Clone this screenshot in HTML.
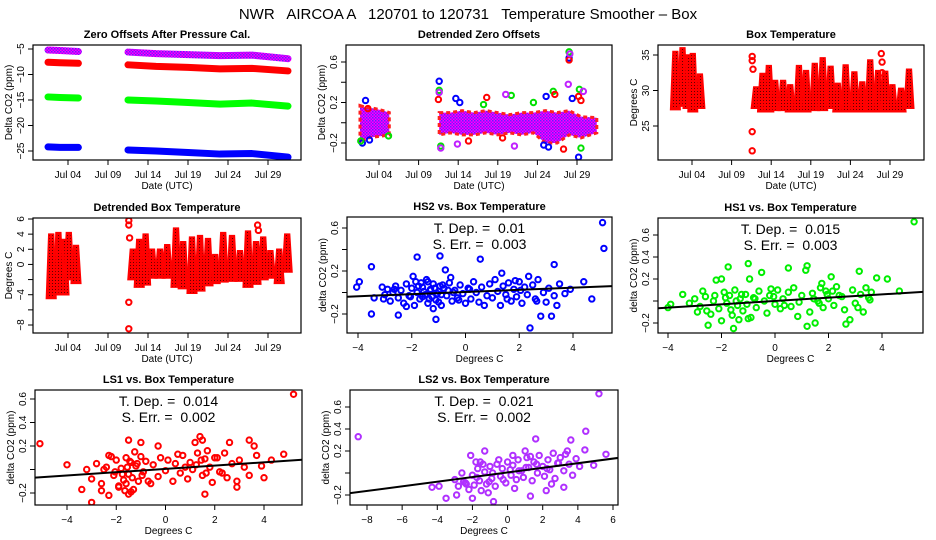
<!DOCTYPE html>
<html><head><meta charset="utf-8"><style>
html,body{margin:0;padding:0;background:#fff;}
svg{display:block;font-family:"Liberation Sans",sans-serif;}
</style></head><body>
<svg id="fig" width="936" height="540" viewBox="0 0 936 540" xmlns="http://www.w3.org/2000/svg">
<defs>
<pattern id="redDots" width="3" height="3" patternUnits="userSpaceOnUse"><rect width="3" height="3" fill="#ff0000"/><rect x="1" y="1" width="1" height="1" fill="#600000"/></pattern>
<pattern id="purpleDots" width="3" height="3" patternUnits="userSpaceOnUse"><rect width="3" height="3" fill="#ff00ff"/><rect x="0" y="0" width="1.5" height="1.5" fill="#6020ff"/><rect x="1.5" y="1.5" width="1.5" height="1.5" fill="#a000ff"/></pattern>
</defs>
<text x="468" y="19" font-size="15" text-anchor="middle" style="white-space:pre">NWR   AIRCOA A   120701 to 120731   Temperature Smoother – Box</text>
</svg>
<script>
// ---------- Panel A: zero offsets ----------
const daysA1 = [1.5, 3, 5.3];
const daysA2 = [11.5, 15, 19, 23, 27, 31.5];
const purpleA1 = [-5.2, -5.3, -5.5];
const purpleA2 = [-5.6, -5.9, -6.1, -6.3, -6.2, -6.9];
const redA1 = [-7.6, -7.7, -7.8];
const redA2 = [-8.1, -8.4, -8.6, -8.9, -8.8, -9.3];
const greenA1 = [-14.4, -14.5, -14.6];
const greenA2 = [-15.0, -15.2, -15.5, -15.8, -15.6, -16.2];
const blueA1 = [-24.2, -24.3, -24.3];
const blueA2 = [-24.8, -25.0, -25.3, -25.6, -25.5, -26.2];
// ---------- Panel B: detrended zero offsets ----------
const daysB = [1.6, 2.5, 3.5, 4.5, 5.3, 11.6, 13, 14.5, 16, 17.5, 19, 20.5, 22, 23.5, 25, 26.5, 28, 29.5, 31.5];
const hiB = [0.17, 0.15, 0.14, 0.12, 0.1, 0.1, 0.1, 0.12, 0.1, 0.12, 0.1, 0.08, 0.1, 0.1, 0.12, 0.1, 0.12, 0.06, 0.05];
const loB = [-0.2, -0.15, -0.14, -0.13, -0.12, -0.12, -0.1, -0.12, -0.12, -0.1, -0.12, -0.1, -0.12, -0.1, -0.2, -0.2, -0.12, -0.15, -0.1];
const blueOutDays = [11.6, 13.7, 14.2, 24.8, 25.4, 29.2, 25.1, 28, 28.4, 2.3, 2.8, 1.9];
const blueOutVals = [0.41, 0.24, 0.2, -0.22, -0.24, -0.34, 0.26, 0.64, 0.24, 0.22, -0.17, -0.2];
const redOutDays = [11.5, 17.6, 26.2, 27.3, 28, 29.2, 29.5, 15.3, 19.6, 2.6];
const redOutVals = [0.23, 0.25, 0.28, -0.26, 0.62, 0.26, 0.22, -0.18, -0.15, 0.14];
const greenOutDays = [11.6, 11.8, 17.2, 20.7, 23.5, 26, 28, 29.3, 29.5, 1.7, 5.2];
const greenOutVals = [0.32, -0.23, 0.18, 0.27, 0.2, 0.31, 0.7, 0.33, -0.25, -0.18, -0.13];
const purpleOutDays = [11.6, 11.8, 13.9, 20, 21.1, 27.9, 29.8, 28.1];
const purpleOutVals = [0.3, -0.25, -0.21, 0.28, -0.23, 0.38, 0.31, 0.68];
// ---------- Panel C / D: box temperature (daily ranges) ----------
const daysT = [1.9, 2.8, 3.5, 4.1, 5.0, 12.1, 12.9, 13.7, 14.5, 15.5, 16.4, 17.5, 18.4, 19.5, 20.5, 21.5, 22.4, 23.4, 24.5, 25.5, 26.5, 27.5, 28.4, 29.3, 30.4, 31.4];
const hiC = [35.5, 36, 35, 35.2, 32.3, 30.5, 32.4, 33.5, 31.4, 31.4, 30.8, 33.5, 32.8, 33.8, 34.6, 33.4, 31, 33.6, 32.6, 31.2, 34.3, 32.8, 32.7, 30.8, 30.3, 33];
const loC = [27.3, 27.8, 27.5, 27, 27.5, 27.5, 27, 27, 27.2, 27.2, 27, 27, 27, 27.2, 27.2, 27.5, 27, 27, 27, 27, 27, 27, 27, 27, 27, 27.5];
const outDaysC = [11.6, 11.6, 11.7, 11.6, 11.6, 27.9, 28, 28];
const outValsC = [34.8, 34.2, 33, 24.2, 21.5, 35.2, 34, 32.5];
const hiD = [4, 4.2, 3.3, 4.2, 2.5, 2, 3.3, 4, 2, 2, 2.6, 4.8, 3, 3.6, 3.8, 3.4, 1.3, 4.2, 3.8, 1.8, 4.4, 3, 3.6, 1.8, 2, 4];
const loD = [-4.5, -4, -4, -2, -2.5, -2, -3, -2.7, -1.8, -1.8, -1.8, -3, -3.2, -3.8, -3.5, -2.8, -2.5, -2.3, -2.2, -2.2, -3, -2.6, -2, -1.8, -2.5, -1];
const outDaysD = [11.6, 11.6, 11.7, 11.6, 11.6, 27.7, 27.8];
const outValsD = [5.8, 5.2, 3.5, -5, -8.5, 5.2, 4.5];
// ---------- Scatter panels ----------
const hs2X = [5.1,5.15,2.4,-1.8,-0.95,0.55,-0.75,-3.5,3.3,-4.05,-3.95,-3.5,-2.5,-1.1,2.8,3.2,4.7,4.4,-3.1,-3.0,-2.9,-2.8,-2.7,-2.6,-2.5,-2.4,-2.3,-2.2,-2.1,-2.0,-1.9,-1.85,-1.8,-1.7,-1.6,-1.5,-1.45,-1.4,-1.3,-1.25,-1.2,-1.1,-1.0,-0.95,-0.9,-0.8,-0.7,-0.6,-0.5,-0.4,-0.3,-0.2,-0.1,0.0,0.1,0.2,0.3,0.4,0.5,0.6,0.8,0.9,1.0,1.1,1.2,1.3,1.4,1.5,1.6,1.7,1.8,1.9,2.0,2.1,2.2,2.3,2.5,2.6,2.7,2.9,3.0,3.1,3.3,3.5,3.7,3.9,-3.4,-1.95,-0.55,1.35,2.35,-1.2,0.7,-2.2,3.4,-1.3,-0.9,-1.6,-1.55,-1.35,-1.15,-1.05,-0.85,-1.75,-2.05,-1.65,-0.65,-0.25,0.15,1.55,1.85,2.05,2.65,-2.65,-3.05,-1.4,-1.0,-0.45];
const hs2Y = [0.65,0.41,-0.33,0.33,0.34,0.31,0.21,0.24,0.26,0.05,0.1,-0.2,-0.21,-0.25,-0.22,-0.22,-0.06,0.1,0.05,-0.02,0.03,-0.08,0.0,0.06,-0.05,0.02,-0.1,0.08,-0.03,0.04,-0.12,0.1,0.0,-0.06,0.05,-0.02,0.12,-0.1,0.03,-0.04,0.08,-0.07,0.01,0.06,-0.12,0.04,-0.03,0.09,-0.08,0.02,-0.05,0.07,-0.01,-0.1,0.04,-0.06,0.1,0.0,-0.09,0.05,-0.03,0.08,-0.05,0.12,0.01,-0.12,0.06,-0.02,0.09,-0.08,0.03,-0.04,0.1,-0.1,0.05,-0.02,0.07,-0.06,0.12,0.0,-0.09,0.04,-0.03,0.08,-0.01,0.03,-0.05,0.15,0.14,0.18,0.15,-0.15,-0.12,-0.13,-0.12,0.02,-0.02,-0.04,0.01,-0.06,0.04,-0.01,0.07,0.06,-0.04,0.09,0.02,-0.07,0.03,-0.06,0.11,0.02,-0.08,0.03,-0.06,0.1,-0.09,0.0];
const hs2Fit = [0.005, 0.01];
const hs1X = [5.2,-1.0,-1.75,0.5,1.2,1.15,3.15,-0.5,-2.2,-2.0,-0.95,2.1,3.8,4.2,4.65,-3.45,-2.7,-1.55,1.2,2.65,-2.5,1.5,2.8,-4.0,-3.9,-3.2,-3.0,-2.9,-2.8,-2.6,-2.4,-2.3,-2.1,-1.9,-1.8,-1.7,-1.6,-1.5,-1.4,-1.3,-1.2,-1.1,-0.9,-0.8,-0.7,-0.6,-0.4,-0.3,-0.2,0.0,0.1,0.2,0.3,0.5,0.6,0.7,0.9,1.0,1.3,1.4,1.6,1.7,1.8,1.9,2.0,2.2,2.3,2.4,2.6,2.9,3.0,3.2,3.3,3.4,3.5,3.6,-1.35,-0.15,0.85,1.75,2.5,-2.0,-1.0,3.1,-1.85,-1.65,-1.45,-1.25,-1.05,-0.75,-2.25,-2.55,1.45,1.65,1.95,2.15,3.55,-0.05,0.35];
const hs1Y = [0.72,0.34,0.31,0.3,0.32,0.28,0.27,0.26,0.19,0.2,0.2,0.22,0.21,0.2,0.09,0.06,0.09,-0.25,-0.23,-0.21,-0.22,-0.2,-0.17,-0.06,-0.03,-0.02,0.02,-0.1,-0.05,0.04,-0.12,0.0,-0.07,0.08,-0.02,0.05,-0.13,0.1,-0.04,0.02,-0.09,0.06,-0.15,0.03,-0.06,0.09,0.0,-0.11,0.05,-0.03,0.1,-0.07,0.02,0.08,-0.05,0.12,-0.01,0.05,-0.1,0.07,0.0,0.12,-0.06,0.09,0.02,-0.04,0.13,0.05,-0.08,0.1,-0.02,0.06,-0.1,0.12,0.03,0.08,-0.17,0.11,-0.14,0.16,0.04,-0.18,-0.16,-0.06,0.03,-0.08,0.0,0.06,-0.03,0.02,0.05,-0.09,0.02,-0.02,0.06,0.09,0.01,0.04,-0.04];
const hs1Fit = [0.0, 0.015];
const ls1X = [5.2,-5.1,-4.0,-3.0,-2.3,-1.5,-1.0,-0.3,1.4,1.5,1.2,2.6,3.4,3.6,4.8,4.0,1.6,-1.5,-3.4,-2.6,2.9,4.3,-3.2,-3.0,-2.8,-2.6,-2.4,-2.3,-2.1,-2.0,-1.9,-1.8,-1.7,-1.6,-1.5,-1.4,-1.3,-1.2,-1.1,-1.0,-0.9,-0.8,-0.6,-0.5,-0.3,-0.2,0.0,0.1,0.3,0.4,0.6,0.7,0.9,1.0,1.1,1.3,1.5,1.6,1.8,1.9,2.1,2.2,2.4,2.5,2.7,2.9,3.0,3.2,3.4,3.7,-1.65,-1.25,-0.7,0.5,1.7,2.3,-2.2,-1.9,-1.4,3.9,-1.75,-1.55,-1.35,-1.15,-2.05,-2.5,-0.95,1.25,1.45,1.65,2.0,-1.6,-1.45,0.8];
const ls1Y = [0.64,0.22,0.04,-0.28,-0.22,0.25,0.23,0.2,0.28,0.25,0.23,0.23,0.25,0.2,0.13,-0.07,-0.21,-0.21,-0.17,-0.18,-0.15,0.08,0.0,-0.08,0.05,-0.12,0.02,0.12,-0.05,0.08,-0.14,0.01,-0.09,0.1,-0.04,0.06,-0.17,0.03,-0.1,0.11,-0.02,0.07,-0.12,0.04,-0.06,0.1,-0.01,0.08,-0.1,0.05,-0.03,0.12,-0.08,0.06,0.0,0.14,-0.05,0.09,0.02,-0.11,0.1,-0.02,0.14,-0.07,0.05,-0.1,0.08,0.02,-0.05,0.12,-0.18,0.15,-0.1,0.13,0.16,-0.03,0.11,-0.15,-0.19,0.03,-0.04,0.02,-0.07,0.05,-0.02,0.0,-0.05,0.04,0.08,-0.03,0.1,-0.12,0.07,0.02];
const ls1Fit = [0.005, 0.014];
const ls2X = [-8.5,5.2,4.45,3.6,1.6,1.0,5.6,4.4,4.9,-4.3,-3.9,-3.5,-2.0,-0.8,1.3,2.2,3.2,-1.3,-2.1,-2.9,0.3,-3.0,-2.8,-2.6,-2.4,-2.2,-2.0,-1.9,-1.7,-1.6,-1.5,-1.3,-1.2,-1.0,-0.9,-0.7,-0.6,-0.4,-0.3,-0.1,0.0,0.2,0.3,0.5,0.6,0.8,0.9,1.1,1.2,1.4,1.5,1.7,1.8,2.0,2.1,2.3,2.4,2.6,2.7,2.9,3.0,3.2,3.3,3.5,3.7,3.9,4.1,-1.8,-1.1,-0.5,0.4,1.3,2.5,3.4,-2.5,-1.4,-1.55,-1.75,-1.05,-0.25,0.65,1.05,1.65,2.25,2.85,-2.35,-0.85,0.15];
const ls2Y = [0.33,0.72,0.38,0.3,0.31,0.2,0.17,0.21,0.07,-0.13,-0.12,-0.23,-0.23,-0.26,-0.21,-0.16,-0.13,0.2,0.16,-0.2,0.16,-0.06,-0.12,0.0,-0.09,-0.15,-0.02,-0.11,0.04,-0.07,-0.16,0.01,-0.1,0.06,-0.05,-0.12,0.08,-0.03,0.04,-0.09,0.1,-0.02,0.07,-0.06,0.12,0.02,-0.04,0.14,0.05,-0.07,0.1,0.0,0.16,0.06,-0.03,0.12,0.03,0.18,-0.05,0.09,0.14,0.02,0.17,0.08,-0.02,0.13,0.06,0.1,-0.18,0.12,-0.14,0.15,-0.1,0.2,-0.08,0.08,0.1,-0.04,-0.08,-0.06,0.02,0.05,0.08,0.04,0.09,-0.1,0.0,0.03];
const ls2Fit = [0.005, 0.021];

const NS = "http://www.w3.org/2000/svg";
const svg = document.getElementById("fig");
function mk(tag, attrs, parent) {
  const e = document.createElementNS(NS, tag);
  for (const k in attrs) e.setAttribute(k, attrs[k]);
  (parent || svg).appendChild(e);
  return e;
}
function lin(a) { const k = (a[3] - a[1]) / (a[2] - a[0]); return v => a[1] + (v - a[0]) * k; }

function panel(p) {
  const g = mk("g", {});
  
  
  const [l, t, r, b] = p.frame;
  const sx = lin(p.x), sy = lin(p.y);
  const t1 = mk("text", {x: (l + r) / 2, y: t - 7, "font-size": 11, "font-weight": "bold", "text-anchor": "middle"}, g);
  t1.textContent = p.title;
  
  
  const clip = "c" + p.id;
  const cp = mk("clipPath", {id: clip}, g);
  mk("rect", {x: l, y: t, width: r - l, height: b - t}, cp);
  const plot = mk("g", {"clip-path": "url(#" + clip + ")"}, g);
  
  
  p.draw(plot, sx, sy);
  const fr = mk("rect", {x: l, y: t, width: r - l, height: b - t, fill: "none", stroke: "#000", "stroke-width": 1.2}, g);
  
  
  p.xt.forEach((v, i) => {
    const px = sx(v);
    mk("line", {x1: px, x2: px, y1: b, y2: b + 5, stroke: "#000"}, g);
    const tx = mk("text", {x: px, y: b + 18, "font-size": 10, "text-anchor": "middle"}, g);
    tx.textContent = p.xl[i];
    
    
  });
  p.yt.forEach(v => { const py = sy(v); mk("line", {x1: l - 5, x2: l, y1: py, y2: py, stroke: "#000"}, g); });
  p.yl.forEach(v => {
    const py = sy(v);
    const ty = mk("text", {x: l - 9, y: py, "font-size": 10, "text-anchor": "middle", transform: "rotate(-90 " + (l - 9) + " " + py + ")"}, g);
    ty.textContent = String(v).replace("-", "\u2212");
    
    
  });
  const xa = mk("text", {x: (l + r) / 2, y: b + 29, "font-size": 10, "text-anchor": "middle"}, g);
  xa.textContent = p.xlab;
  
  
  const ya = mk("text", {x: l - 21, y: (t + b) / 2, "font-size": 10, "text-anchor": "middle", transform: "rotate(-90 " + (l - 21) + " " + ((t + b) / 2) + ")"}, g);
  ya.textContent = p.ylab;
  
  
  if (p.fit) {
    const a = mk("text", {x: (l + r) / 2, y: t + 16, "font-size": 14, "text-anchor": "middle", style: "white-space:pre"}, g);
    a.textContent = "T. Dep. =  " + p.fitText[0];
    
    
    const s = mk("text", {x: (l + r) / 2, y: t + 32, "font-size": 14, "text-anchor": "middle", style: "white-space:pre"}, g);
    s.textContent = "S. Err. =  " + p.fitText[1];
    
    
  }
}
function circles(g, sx, sy, xs, ys, color, name) {
  xs.forEach((x, i) => {
    const c = mk("circle", {cx: sx(x), cy: sy(ys[i]), r: 2.7, fill: "none", stroke: color, "stroke-width": 2}, g);
    
    
  });
}
function band(g, sx, sy, days, vals, color, w, name) {
  const pts = days.map((d, i) => sx(d) + "," + sy(vals[i])).join(" ");
  const pl = mk("polyline", {points: pts, fill: "none", stroke: color, "stroke-width": w, "stroke-linecap": "round", "stroke-linejoin": "round"}, g);
  
  
}
function daily(g, sx, sy, days, hi, lo, fill, name) {
  days.forEach((d, i) => {
    const pts = [[d - 0.6, lo[i]], [d - 0.3, hi[i]], [d + 0.3, hi[i]], [d + 0.6, lo[i]]].map(q => sx(q[0]) + "," + sy(q[1])).join(" ");
    const pg = mk("polygon", {points: pts, fill: fill, stroke: "#ff0000", "stroke-width": 1.5}, g);
    
    
  });
}
function fitLine(g, sx, sy, fit, x0, x1) {
  const ln = mk("line", {x1: sx(x0), y1: sy(fit[0] + fit[1] * x0), x2: sx(x1), y2: sy(fit[0] + fit[1] * x1), stroke: "#000", "stroke-width": 2}, g);
  
  
}
const dayTicks = [4, 9, 14, 19, 24, 29];
const dayLabels = ["Jul 04", "Jul 09", "Jul 14", "Jul 19", "Jul 24", "Jul 29"];

panel({id: "A", name: "zero-offsets-panel", title: "Zero Offsets After Pressure Cal.", frame: [33, 45, 301, 160], x: [4, 68, 29, 268], y: [-5, 49, -25, 151],
  xt: dayTicks, xl: dayLabels, yt: [-5, -10, -15, -20, -25], yl: [-5, -10, -15, -20, -25], xlab: "Date (UTC)", ylab: "Delta CO2 (ppm)",
  draw(g, sx, sy) {
    band(g, sx, sy, daysA1, blueA1, "#0000ff", 7, "series-blue"); band(g, sx, sy, daysA2, blueA2, "#0000ff", 7, "series-blue");
    band(g, sx, sy, daysA1, greenA1, "#00ff00", 7, "series-green"); band(g, sx, sy, daysA2, greenA2, "#00ff00", 7, "series-green");
    band(g, sx, sy, daysA1, redA1, "#ff0000", 7, "series-red"); band(g, sx, sy, daysA2, redA2, "#ff0000", 7, "series-red");
    band(g, sx, sy, daysA1, purpleA1, "url(#purpleDots)", 7, "series-purple"); band(g, sx, sy, daysA2, purpleA2, "url(#purpleDots)", 7, "series-purple");
  }});
panel({id: "B", name: "detrended-zero-offsets-panel", title: "Detrended Zero Offsets", frame: [346, 45, 612, 160], x: [4, 379, 29, 577], y: [0.6, 62, -0.2, 143],
  xt: dayTicks, xl: dayLabels, yt: [0.6, 0.4, 0.2, 0, -0.2], yl: [0.6, 0.2, -0.2], xlab: "Date (UTC)", ylab: "Delta CO2 (ppm)",
  draw(g, sx, sy) {
    const segs = [[0, 5], [5, daysB.length]];
    segs.forEach(s => {
      const top = [], bot = [];
      for (let i = s[0]; i < s[1]; i++) { top.push(sx(daysB[i]) + "," + sy(hiB[i])); bot.unshift(sx(daysB[i]) + "," + sy(loB[i])); }
      const pg = mk("polygon", {points: top.concat(bot).join(" "), fill: "url(#purpleDots)", stroke: "#ff2020", "stroke-width": 3, "stroke-dasharray": "4 3"}, g);
      
      
    });
    circles(g, sx, sy, blueOutDays, blueOutVals, "#0000ff", "blue-point");
    circles(g, sx, sy, greenOutDays, greenOutVals, "#00e000", "green-point");
    circles(g, sx, sy, redOutDays, redOutVals, "#ff0000", "red-point");
    circles(g, sx, sy, purpleOutDays, purpleOutVals, "#c020ff", "purple-point");
  }});
panel({id: "C", name: "box-temperature-panel", title: "Box Temperature", frame: [658, 45, 924, 160], x: [4, 692, 29, 890], y: [35, 55, 25, 126],
  xt: dayTicks, xl: dayLabels, yt: [35, 30, 25], yl: [35, 30, 25], xlab: "Date (UTC)", ylab: "Degrees C",
  draw(g, sx, sy) { daily(g, sx, sy, daysT, hiC, loC, "url(#redDots)", "temp-day"); circles(g, sx, sy, outDaysC, outValsC, "#ff0000", "temp-point"); }});
panel({id: "D", name: "detrended-box-temperature-panel", title: "Detrended Box Temperature", frame: [33, 218, 301, 333], x: [4, 68, 29, 268], y: [6, 219, -8, 325],
  xt: dayTicks, xl: dayLabels, yt: [6, 4, 2, 0, -2, -4, -6, -8], yl: [6, 4, 2, 0, -4, -8], xlab: "Date (UTC)", ylab: "Degrees C",
  draw(g, sx, sy) { daily(g, sx, sy, daysT, hiD, loD, "url(#redDots)", "temp-day"); circles(g, sx, sy, outDaysD, outValsD, "#ff0000", "temp-point"); }});
panel({id: "E", name: "hs2-scatter-panel", title: "HS2 vs. Box Temperature", frame: [347, 217, 612, 333], x: [-4, 358, 4, 573], y: [0.6, 228, -0.2, 314],
  xt: [-4, -2, 0, 2, 4], xl: ["\u22124", "\u22122", "0", "2", "4"], yt: [0.6, 0.4, 0.2, 0, -0.2], yl: [0.6, 0.2, -0.2], xlab: "Degrees C", ylab: "delta CO2 (ppm)",
  fit: true, fitText: ["0.01", "0.003"],
  draw(g, sx, sy) { circles(g, sx, sy, hs2X, hs2Y, "#0000ff", "hs2-point"); fitLine(g, sx, sy, hs2Fit, -5, 6); }});
panel({id: "F", name: "hs1-scatter-panel", title: "HS1 vs. Box Temperature", frame: [658, 218, 923, 333], x: [-4, 668, 4, 882], y: [0.6, 235, -0.2, 323],
  xt: [-4, -2, 0, 2, 4], xl: ["\u22124", "\u22122", "0", "2", "4"], yt: [0.6, 0.4, 0.2, 0, -0.2], yl: [0.6, 0.4, 0.2, -0.2], xlab: "Degrees C", ylab: "delta CO2 (ppm)",
  fit: true, fitText: ["0.015", "0.003"],
  draw(g, sx, sy) { circles(g, sx, sy, hs1X, hs1Y, "#00ee00", "hs1-point"); fitLine(g, sx, sy, hs1Fit, -5, 6); }});
panel({id: "G", name: "ls1-scatter-panel", title: "LS1 vs. Box Temperature", frame: [35, 390, 302, 505], x: [-4, 67, 4, 264], y: [0.6, 399, -0.2, 493],
  xt: [-4, -2, 0, 2, 4], xl: ["\u22124", "\u22122", "0", "2", "4"], yt: [0.6, 0.4, 0.2, 0, -0.2], yl: [0.6, 0.4, 0.2, -0.2], xlab: "Degrees C", ylab: "delta CO2 (ppm)",
  fit: true, fitText: ["0.014", "0.002"],
  draw(g, sx, sy) { circles(g, sx, sy, ls1X, ls1Y, "#ff0000", "ls1-point"); fitLine(g, sx, sy, ls1Fit, -6, 6); }});
panel({id: "H", name: "ls2-scatter-panel", title: "LS2 vs. Box Temperature", frame: [350, 390, 618, 505], x: [-8, 367, 6, 613], y: [0.6, 407, -0.2, 495],
  xt: [-8, -6, -4, -2, 0, 2, 4, 6], xl: ["\u22128", "\u22126", "\u22124", "\u22122", "0", "2", "4", "6"], yt: [0.6, 0.4, 0.2, 0, -0.2], yl: [0.6, 0.4, 0.2, -0.2], xlab: "Degrees C", ylab: "delta CO2 (ppm)",
  fit: true, fitText: ["0.021", "0.002"],
  draw(g, sx, sy) { circles(g, sx, sy, ls2X, ls2Y, "#b030ff", "ls2-point"); fitLine(g, sx, sy, ls2Fit, -10, 7); }});
</script>
</body></html>
